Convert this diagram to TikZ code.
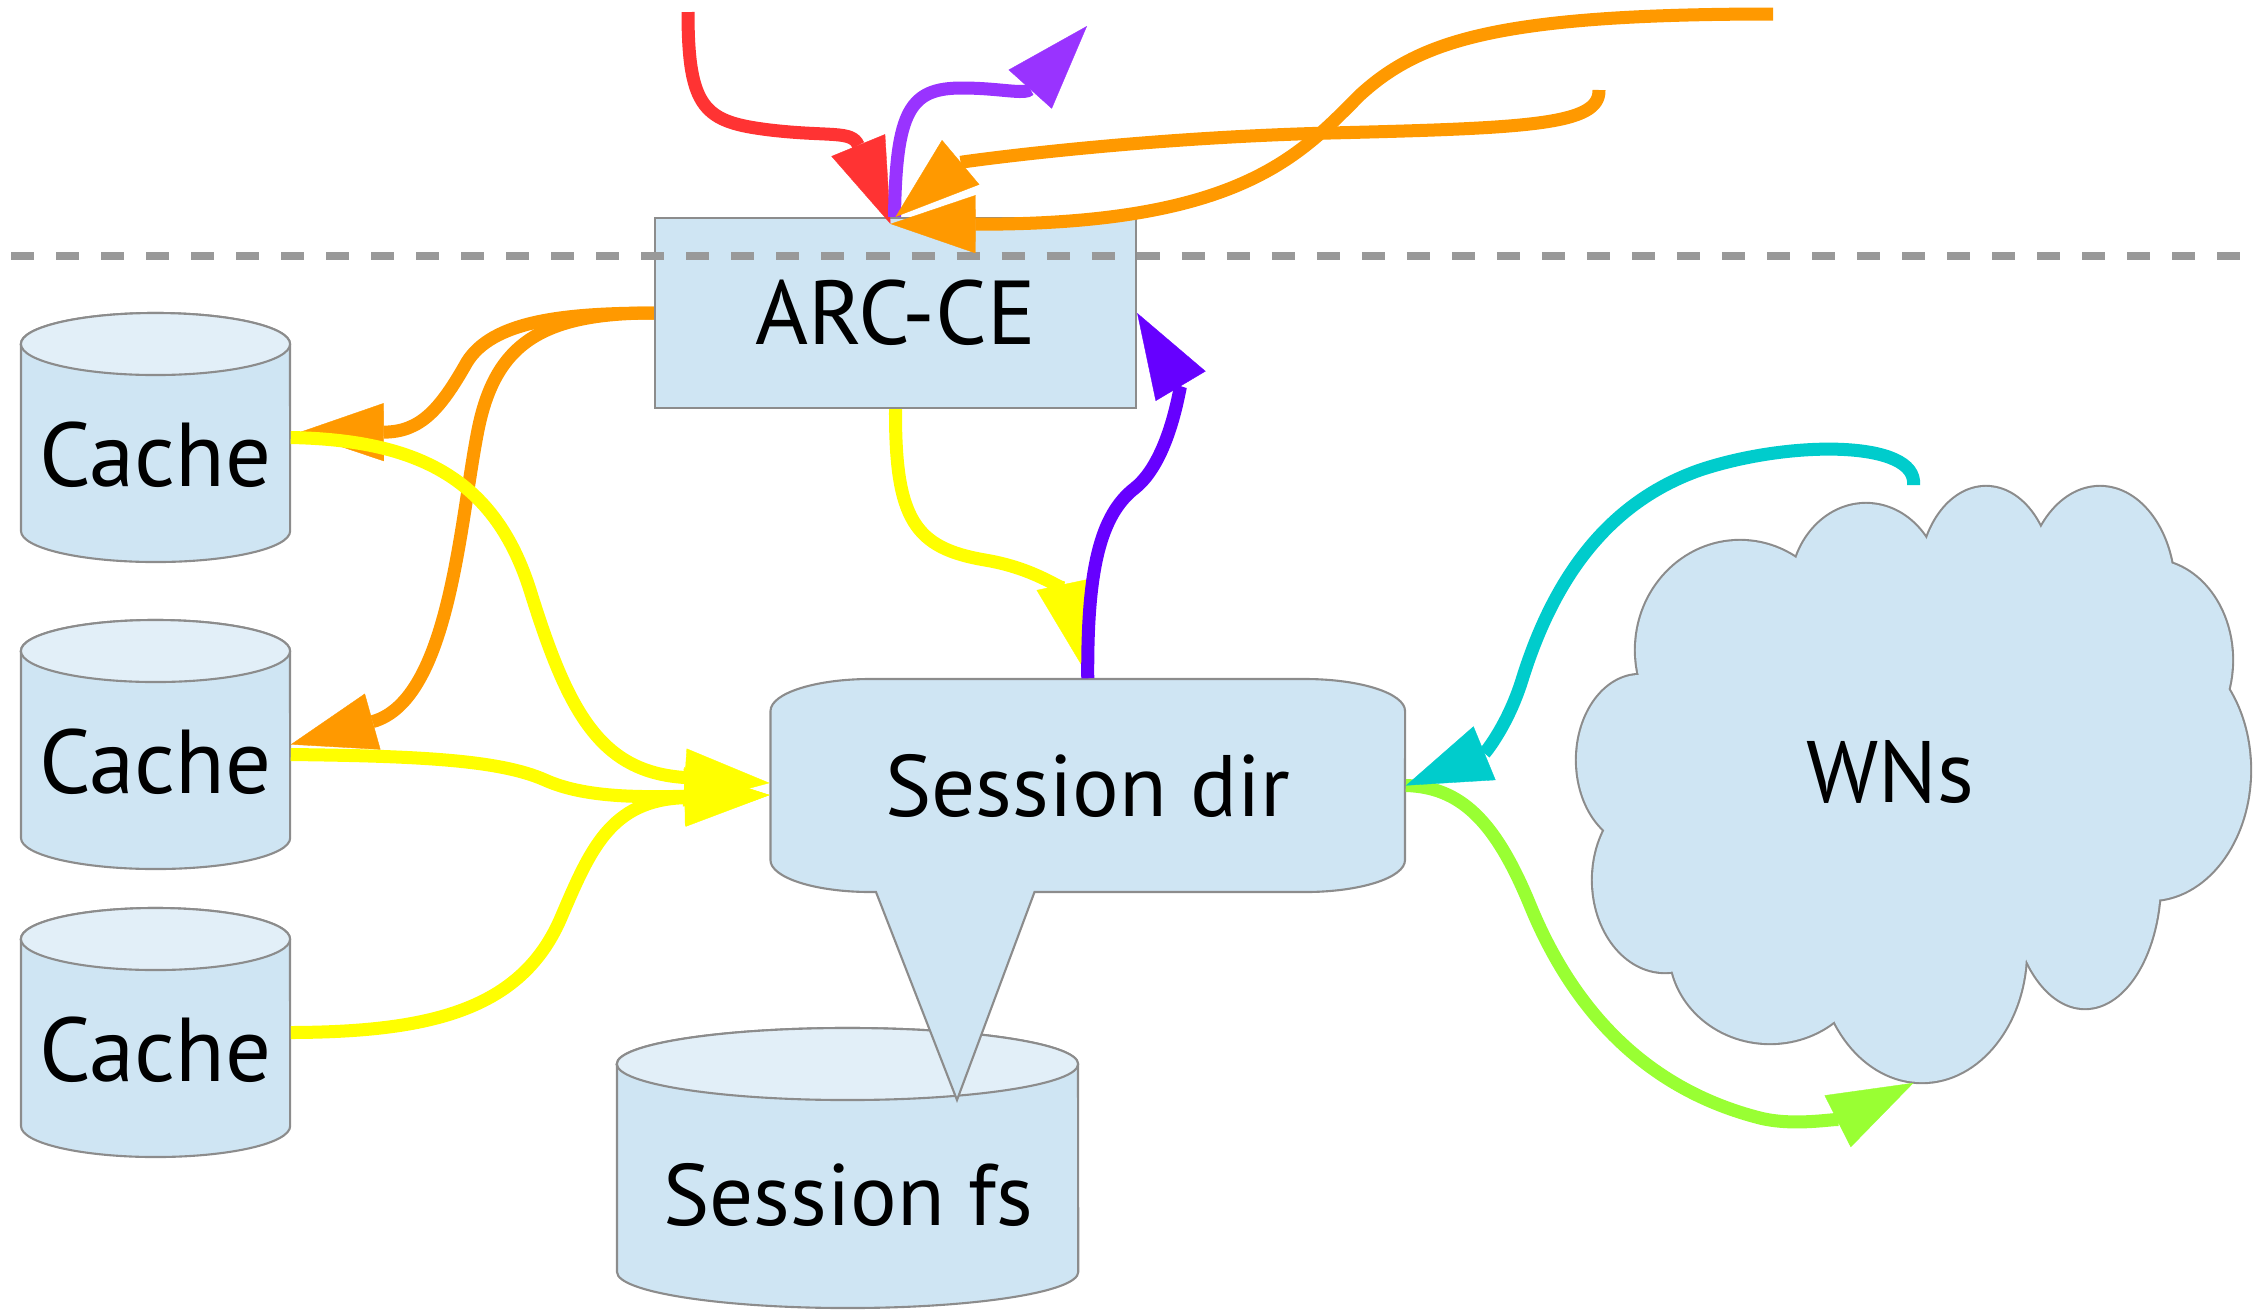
\documentclass[tikz,border=0pt]{standalone}
\usepackage{fontspec}
\setmainfont{PT Sans}
\usetikzlibrary{arrows.meta}
\definecolor{boxfill}{HTML}{CFE5F3}
\definecolor{topfill}{HTML}{E2EFF8}
\definecolor{edgegray}{HTML}{8C8C8C}
\definecolor{dashgray}{HTML}{999999}
\definecolor{cred}{HTML}{FF3333}
\definecolor{cpurple}{HTML}{9933FF}
\definecolor{corange}{HTML}{FF9900}
\definecolor{cyellow}{HTML}{FFFF00}
\definecolor{cviolet}{HTML}{6600FF}
\definecolor{cteal}{HTML}{00CCCC}
\definecolor{cgreen}{HTML}{99FF33}
\tikzset{
  conn/.style={line width=0.13cm, draw=#1, -{Triangle[length=0.85cm,width=0.58cm,line width=0.1pt]}},
  shp/.style={fill=boxfill, draw=edgegray, line width=0.6pt},
  cyltop/.style={fill=topfill, draw=edgegray, line width=0.6pt},
  ghost/.style={draw=none, inner sep=0pt},
  lbl/.style={font=\fontsize{24.8}{30}\selectfont, inner sep=0pt, anchor=base},
  biglbl/.style={font=\fontsize{25.8}{31}\selectfont, inner sep=0pt, anchor=base},
  sepline/.style={draw=dashgray, line width=0.085cm, dash pattern=on 0.23cm off 0.22cm},
  puff/.style={draw=edgegray, line width=1.2pt},
  pufffill/.style={fill=boxfill}
}
\newcommand{\mycyl}[7]{%
  \filldraw[shp] (#1,-#3-#5) -- (#1,-#4+#5) arc[start angle=180,end angle=360,x radius=#6,y radius=#7] -- (#2,-#3-#5) arc[start angle=0,end angle=180,x radius=#6,y radius=#7] -- cycle;
  \filldraw[cyltop] ({(#1+#2)/2},-#3-#5) ellipse[x radius=#6,y radius=#7];
}
\begin{document}
\begin{tikzpicture}[x=0.01cm,y=0.01cm]
\useasboundingbox (0,0) rectangle (2263,-1311);

% cache cylinders
\mycyl{21}{290}{313}{562}{31}{1.345cm}{0.31cm}
\mycyl{21}{290}{620}{869}{31}{1.345cm}{0.31cm}
\mycyl{21}{290}{908}{1157}{31}{1.345cm}{0.31cm}
\node[ghost, minimum width=2.69cm, minimum height=2.49cm] (c1) at (155.5,-437.5) {};
\node[ghost, minimum width=2.69cm, minimum height=2.49cm] (c2) at (155.5,-744.5) {};
\node[ghost, minimum width=2.69cm, minimum height=2.49cm] (c3) at (155.5,-1032.5) {};
\node[biglbl] (c1t) at (155.5,-486) {Cache};
\node[biglbl] (c2t) at (155.5,-793) {Cache};
\node[biglbl] (c3t) at (155.5,-1081) {Cache};

% session fs
\mycyl{617}{1078}{1028}{1308}{36}{2.305cm}{0.36cm}
\node[ghost, minimum width=4.61cm, minimum height=2.80cm] (fs) at (847.5,-1168) {};
\node[lbl] (fst) at (848,-1225) {Session fs};

% session dir callout
\filldraw[shp] (870.5,-679) -- (1305,-679)
  arc[start angle=90,end angle=0,x radius=1cm,y radius=0.32cm] -- (1405,-860)
  arc[start angle=0,end angle=-90,x radius=1cm,y radius=0.32cm] -- (1034.5,-892)
  -- (957,-1100) -- (876,-892) -- (870.5,-892)
  arc[start angle=-90,end angle=-180,x radius=1cm,y radius=0.32cm] -- (770.5,-711)
  arc[start angle=180,end angle=90,x radius=1cm,y radius=0.32cm] -- cycle;
\node[ghost, minimum width=6.345cm, minimum height=2.13cm, font=\fontsize{24.8}{30}\selectfont] (sd) at (1087.75,-785.5) {Session dir};

% ARC-CE
\node[shp, minimum width=4.81cm, minimum height=1.90cm, inner sep=0pt, font=\fontsize{25.8}{31}\selectfont] (arc) at (895.5,-313) {ARC-CE};

% cloud
\foreach \cx/\cy/\rx/\ry in {1640/760/0.63/0.85, 1740/650/1.04/1.09, 1866/590/0.75/0.86, 1986/580/0.66/0.93, 2100/590/0.74/1.03, 2150/660/0.82/1.00, 2150/770/1.00/1.30, 2085/880/0.75/1.28, 1922/950/1.04/1.32, 1770/950/1.00/0.93, 1665/880/0.72/0.92, 1905/780/2.40/2.00}
  \draw[puff] (\cx,-\cy) ellipse[x radius=\rx cm, y radius=\ry cm];
\foreach \cx/\cy/\rx/\ry in {1640/760/0.63/0.85, 1740/650/1.04/1.09, 1866/590/0.75/0.86, 1986/580/0.66/0.93, 2100/590/0.74/1.03, 2150/660/0.82/1.00, 2150/770/1.00/1.30, 2085/880/0.75/1.28, 1922/950/1.04/1.32, 1770/950/1.00/0.93, 1665/880/0.72/0.92, 1905/780/2.40/2.00}
  \fill[pufffill] (\cx,-\cy) ellipse[x radius=\rx cm, y radius=\ry cm];
\node[ghost, minimum width=6.73cm, minimum height=5.96cm] (wn) at (1913.5,-784) {};
\node[lbl] (wnt) at (1890,-802) {WNs};

% separator
\coordinate (sepL) at (11,-256);
\coordinate (sepR) at (2254,-256);
\draw[sepline] (sepL) -- (sepR);

% free ends
\coordinate (r0) at (688,-12);
\coordinate (pu) at (1087,-26);
\coordinate (o1) at (1599,-90);
\coordinate (o2) at (1773,-14);
\coordinate (hub) at ([xshift=-0.05cm,yshift=-0.07cm]arc.north);

% arrows at top
\draw[conn=cred] (r0) .. controls (688,-110) and (705,-122) .. (770,-130) .. controls (830,-137) and (852,-130) .. (hub);
\draw[conn=cpurple] ([xshift=-0.01cm]arc.north) .. controls (896,-110) and (910,-88) .. (962,-88) .. controls (1000,-88) and (1025,-95) .. (pu);
\draw[conn=corange] (o1) .. controls (1600,-125) and (1530,-128) .. (1330,-133) .. controls (1130,-138) and (961,-162) .. (arc.north);
\draw[conn=corange] (o2) .. controls (1500,-14) and (1420,-40) .. (1360,-95) .. controls (1300,-155) and (1240,-225) .. (hub);

% ARC-CE to caches
\draw[conn=corange] (arc.west) .. controls (560,-313) and (492,-322) .. (467,-362) .. controls (440,-410) and (420,-432) .. ([xshift=0.08cm,yshift=0.05cm]c1.east);
\draw[conn=corange] (arc.west) .. controls (540,-313) and (495,-345) .. (478,-430) .. controls (460,-520) and (450,-700) .. (c2.east);

% caches to session dir
\draw[conn=cyellow] (c1.east) .. controls (420,-440) and (495,-480) .. (530,-590) .. controls (568,-712) and (600,-772) .. ([yshift=0.025cm]sd.west);
\draw[conn=cyellow] ([yshift=-0.1cm]c2.east) .. controls (420,-756) and (500,-760) .. (545,-780) .. controls (585,-798) and (640,-797) .. ([yshift=-0.095cm]sd.west);
\draw[conn=cyellow] (c3.east) .. controls (430,-1032) and (520,-1010) .. (560,-920) .. controls (590,-850) and (610,-800) .. ([yshift=-0.095cm]sd.west);

% ARC-CE <-> session dir
\draw[conn=cyellow] (arc.south) .. controls (895,-520) and (915,-548) .. (985,-560) .. controls (1045,-570) and (1068,-598) .. ([xshift=-0.05cm,yshift=0.11cm]sd.north);
\draw[conn=cviolet] (sd.north) .. controls (1087,-570) and (1100,-515) .. (1135,-488) .. controls (1170,-460) and (1180,-385) .. (arc.east);

% session dir <-> WNs
\draw[conn=cgreen] (sd.east) .. controls (1460,-787) and (1495,-820) .. (1530,-905) .. controls (1575,-1015) and (1650,-1090) .. (1760,-1118) .. controls (1800,-1128) and (1850,-1115) .. (wn.south);
\draw[conn=cteal] (wn.north) .. controls (1918,-440) and (1790,-440) .. (1700,-470) .. controls (1600,-505) and (1550,-590) .. (1522,-680) .. controls (1508,-725) and (1485,-753) .. (sd.east);
\end{tikzpicture}
\end{document}
